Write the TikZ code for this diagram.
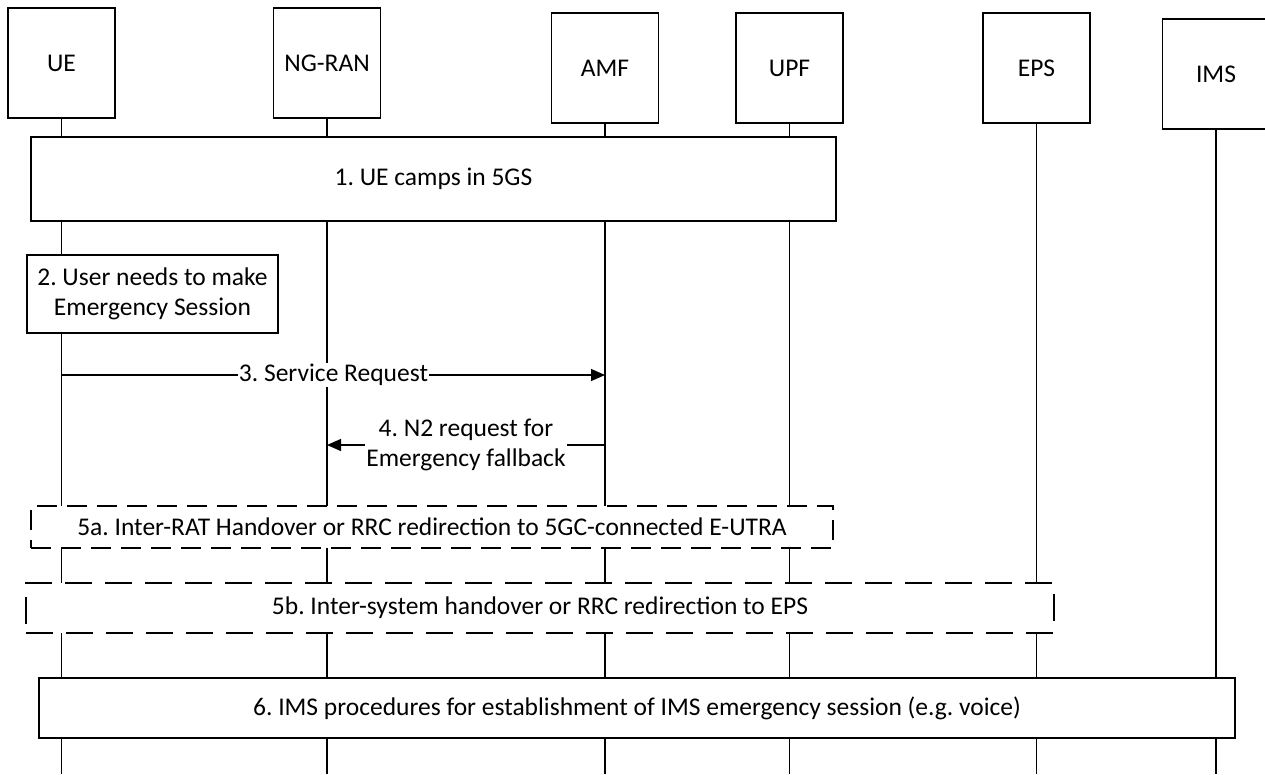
\documentclass[tikz,border=0pt]{standalone}
\usepackage{fontspec}
\setmainfont{Carlito}
\usetikzlibrary{arrows.meta}
\frenchspacing
\begin{document}
\begin{tikzpicture}[x=1pt,y=-1pt,
  every node/.style={font=\fontsize{25.5}{30}\selectfont},
  ent/.style={draw, line width=1.2pt, fill=white, minimum width=107pt, minimum height=110pt, inner sep=0pt},
  life/.style={line width=1.2pt},
  stepbox/.style={draw, line width=1.2pt, fill=white, inner sep=0pt},
  dboxa/.style={draw, line width=1.2pt, fill=white, dash pattern=on 20pt off 10pt, inner sep=0pt},
  dboxb/.style={draw, line width=1.2pt, fill=white, dash pattern=on 27pt off 13pt, inner sep=0pt},
  msg/.style={line width=1.2pt, -{Triangle[length=14pt,width=12pt]}},
  lbl/.style={fill=white, inner sep=1pt, align=center},
]
\useasboundingbox (0,0) rectangle (1265,774);
% entities
\node[ent] (ue)  at (61.5,63)  {UE};
\node[ent] (ran) at (327,63)   {NG-RAN};
\node[ent] (amf) at (605,68)   {AMF};
\node[ent] (upf) at (789.5,68) {UPF};
\node[ent] (eps) at (1036.5,68){EPS};
\node[ent] (ims) at (1216,74)  {IMS};
% lifeline ends
\coordinate (ueE)  at (61.5,774);
\coordinate (ranE) at (327,774);
\coordinate (amfE) at (605,774);
\coordinate (upfE) at (789.5,774);
\coordinate (epsE) at (1036.5,774);
\coordinate (imsE) at (1216,774);
\foreach \a in {ue,ran,amf,upf,eps,ims} \draw[life] (\a.south) -- (\a E);
% step 1
\node[stepbox, minimum width=805pt, minimum height=84pt] (s1) at (433.5,179) {1. UE camps in 5GS};
% step 2
\node[stepbox, minimum width=251pt, minimum height=78pt, align=center] (s2) at (152.5,294) {2. User needs to make\\Emergency Session};
% step 3
\coordinate (ue3) at (61.5,375);
\coordinate (amf3) at (605,375);
\draw[msg] (ue3) -- (amf3);
\node[lbl] (l3) at (333.5,375) {3. Service Request};
% step 4
\coordinate (amf4) at (605,445);
\coordinate (ran4) at (327,445);
\draw[msg] (amf4) -- (ran4);
\node[lbl] (l4) at (466,445) {4. N2 request for\\Emergency fallback};
% step 5a
\node[dboxa, minimum width=802pt, minimum height=42pt] (s5a) at (432,527) {5a. Inter-RAT Handover or RRC redirection to 5GC-connected E-UTRA};
% step 5b
\node[dboxb, minimum width=1028pt, minimum height=50pt] (s5b) at (540,608) {5b. Inter-system handover or RRC redirection to EPS};
% step 6
\node[stepbox, minimum width=1196pt, minimum height=60pt] (s6) at (637,708) {6. IMS procedures for establishment of IMS emergency session (e.g. voice)};
\end{tikzpicture}
\end{document}
